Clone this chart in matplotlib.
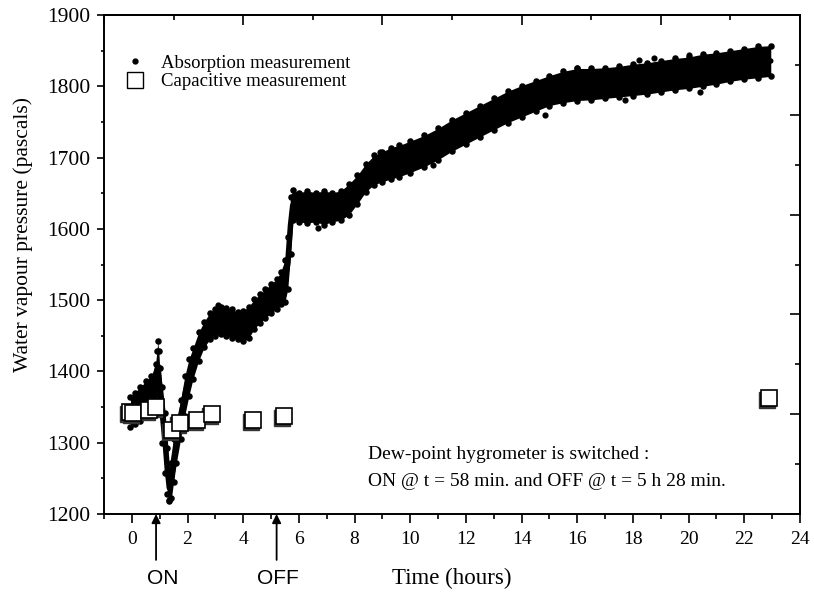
import numpy as np
import matplotlib as mpl
mpl.use("Agg")
import matplotlib.pyplot as plt
import matplotlib.transforms as mtransforms
from matplotlib.ticker import FixedLocator, MultipleLocator
from matplotlib.lines import Line2D

mpl.rcParams.update({
    "font.family": ["Liberation Serif", "DejaVu Serif"],
    "mathtext.fontset": "stix",
})

band_t = [-0.05, 0.1, 0.3, 0.5, 0.7, 0.85, 0.9, 0.93, 0.97, 1.0, 1.1, 1.2, 1.28,
          1.35, 1.42, 1.5, 1.6, 1.75, 1.9, 2.05, 2.2, 2.4, 2.6, 2.8, 3.0, 3.2,
          3.4, 3.6, 3.8, 4.0, 4.2, 4.4, 4.6, 4.8, 5.0, 5.2, 5.35, 5.5, 5.6, 5.7,
          5.78, 6.0, 6.3, 6.6, 6.9, 7.2, 7.5, 7.8, 8.1, 8.4, 8.7, 9.0, 9.3, 9.6,
          10.0, 10.5, 11.0, 11.5, 12.0, 12.5, 13.0, 13.5, 14.0, 14.5, 15.0, 15.5,
          16.0, 16.5, 17.0, 17.5, 18.0, 18.5, 19.0, 19.5, 20.0, 20.5, 21.0, 21.5,
          22.0, 22.5, 22.95]
band_lo = [1322, 1326, 1331, 1338, 1348, 1360, 1368, 1375, 1360, 1345, 1300, 1258,
           1228, 1218, 1222, 1245, 1272, 1305, 1338, 1366, 1390, 1415, 1434, 1445,
           1450, 1452, 1450, 1447, 1445, 1442, 1447, 1460, 1468, 1475, 1482, 1487,
           1494, 1498, 1515, 1565, 1612, 1610, 1608, 1610, 1606, 1610, 1612, 1620,
           1635, 1652, 1662, 1666, 1670, 1673, 1679, 1687, 1697, 1709, 1719, 1729,
           1739, 1749, 1757, 1765, 1773, 1777, 1780, 1781, 1783, 1785, 1787, 1789,
           1792, 1795, 1797, 1800, 1803, 1807, 1810, 1812, 1814]
band_hi = [1364, 1370, 1378, 1386, 1394, 1410, 1428, 1442, 1428, 1405, 1378, 1342,
           1292, 1255, 1272, 1305, 1332, 1360, 1393, 1417, 1433, 1455, 1470, 1482,
           1488, 1491, 1489, 1487, 1483, 1485, 1491, 1501, 1508, 1515, 1523, 1529,
           1540, 1556, 1588, 1645, 1654, 1651, 1653, 1651, 1653, 1651, 1653, 1663,
           1675, 1691, 1703, 1708, 1714, 1717, 1723, 1731, 1741, 1753, 1763, 1773,
           1783, 1793, 1801, 1808, 1815, 1821, 1825, 1825, 1826, 1828, 1831, 1833,
           1836, 1839, 1841, 1845, 1847, 1850, 1853, 1856, 1857]

# stray absorption points outside the main band
stray_t = [3.1, 6.7, 8.9, 10.8, 14.85, 16.0, 17.7, 18.2, 18.75, 20.0, 20.4, 1.33]
stray_p = [1493, 1601, 1708, 1690, 1760, 1826, 1781, 1837, 1840, 1844, 1792, 1220]

# Capacitive measurement
cap_t = [-0.05, 0.05, 0.62, 0.86, 1.43, 1.73, 2.33, 2.87, 4.34, 5.47, 22.9]
cap_p = [1343, 1342, 1346, 1350, 1318, 1328, 1332, 1340, 1332, 1338, 1363]

on_t, off_t = 0.87, 5.2

fig = plt.figure(figsize=(8.14, 5.94), dpi=100)
ax = fig.add_axes([104/814, 80/594, 696/814, 499/594])

lo = np.array(band_lo)
hi = np.array(band_hi)
ax.fill_between(band_t, lo, hi, color="black", lw=0, zorder=2)
ax.plot(band_t, (lo + hi) / 2, color="black", lw=4, solid_capstyle="round", zorder=2)
ax.scatter(band_t + band_t, band_lo + band_hi, s=22, color="black", lw=0, zorder=2)
ax.scatter(stray_t, stray_p, s=20, color="black", lw=0, zorder=2)

# squares with a dark drop shadow
shadow = mtransforms.offset_copy(ax.transData, fig=fig, x=-2, y=-2, units="dots")
ax.plot(cap_t, cap_p, ls="none", marker="s", ms=12, mfc="#333333", mec="#333333",
        transform=shadow, zorder=3)
ax.plot(cap_t, cap_p, ls="none", marker="s", ms=12, mfc="white", mec="black",
        mew=1.2, zorder=4)

ax.set_xlim(-1, 24)
ax.set_ylim(1200, 1900)
ax.set_xticks(range(0, 25, 2))
ax.xaxis.set_minor_locator(MultipleLocator(1))
ax.set_yticks(range(1200, 1901, 100))
ax.yaxis.set_minor_locator(MultipleLocator(50))
ax.tick_params(axis="x", which="major", direction="out", length=6.5, width=1.2,
               labelsize=14, pad=6)
ax.tick_params(axis="x", which="minor", direction="out", length=3.3, width=1.2)
ax.tick_params(axis="y", which="major", direction="out", length=5, width=1.2,
               labelsize=15.5, pad=5)
ax.tick_params(axis="y", which="minor", direction="out", length=2.5, width=1.2)
for sp in ax.spines.values():
    sp.set_linewidth(1.4)

top = ax.secondary_xaxis("top")
top.set_xticks([-1, 4, 9, 14, 19, 24])
top.xaxis.set_minor_locator(FixedLocator([1.5, 6.5, 11.5, 16.5, 21.5]))
top.tick_params(which="major", direction="in", length=7, width=1.2, labeltop=False)
top.tick_params(which="minor", direction="in", length=3.6, width=1.2)
top.spines["top"].set_linewidth(1.4)

right = ax.secondary_yaxis("right")
right.set_yticks([1200, 1340, 1480, 1620, 1760, 1900])
right.yaxis.set_minor_locator(FixedLocator([1270, 1410, 1550, 1690, 1830]))
right.tick_params(which="major", direction="in", length=7, width=1.2, labelright=False)
right.tick_params(which="minor", direction="in", length=3.6, width=1.2)
right.spines["right"].set_linewidth(1.4)

ax.set_xlabel("Time (hours)", fontsize=16.5, labelpad=14)
ax.set_ylabel("Water vapour pressure (pascals)", fontsize=15.5)
ax.yaxis.set_label_coords(-0.102, 0.561)

handles = [
    Line2D([], [], ls="none", marker="o", ms=3.5, color="black"),
    Line2D([], [], ls="none", marker="s", ms=11, mfc="white", mec="black", mew=1.0),
]
ax.legend(handles, ["Absorption measurement", "Capacitive measurement"],
          loc="upper left", bbox_to_anchor=(0.02, 0.935), frameon=False,
          fontsize=13.5, handlelength=1.0, handletextpad=0.9, labelspacing=0.05,
          borderaxespad=0)

ax.text(8.49, 1283, "Dew-point hygrometer is switched :", fontsize=14,
        ha="left", va="center")
ax.text(8.49, 1245, "ON @ t = 58 min. and OFF @ t = 5 h 28 min.", fontsize=14,
        ha="left", va="center")

for t, lab, tx in [(on_t, "ON", 1.12), (off_t, "OFF", 5.25)]:
    ax.annotate("", xy=(t, 0), xycoords=("data", "axes fraction"),
                xytext=(t, -0.092), textcoords=("data", "axes fraction"),
                arrowprops=dict(arrowstyle="-|>", lw=1.3, color="black",
                                mutation_scale=13, shrinkA=0, shrinkB=0),
                annotation_clip=False)
    ax.text(tx, -0.13, lab, transform=ax.get_xaxis_transform(), fontsize=15,
            family=["Liberation Sans", "DejaVu Sans"], ha="center", va="center")

fig.savefig("out.png", dpi=100)
